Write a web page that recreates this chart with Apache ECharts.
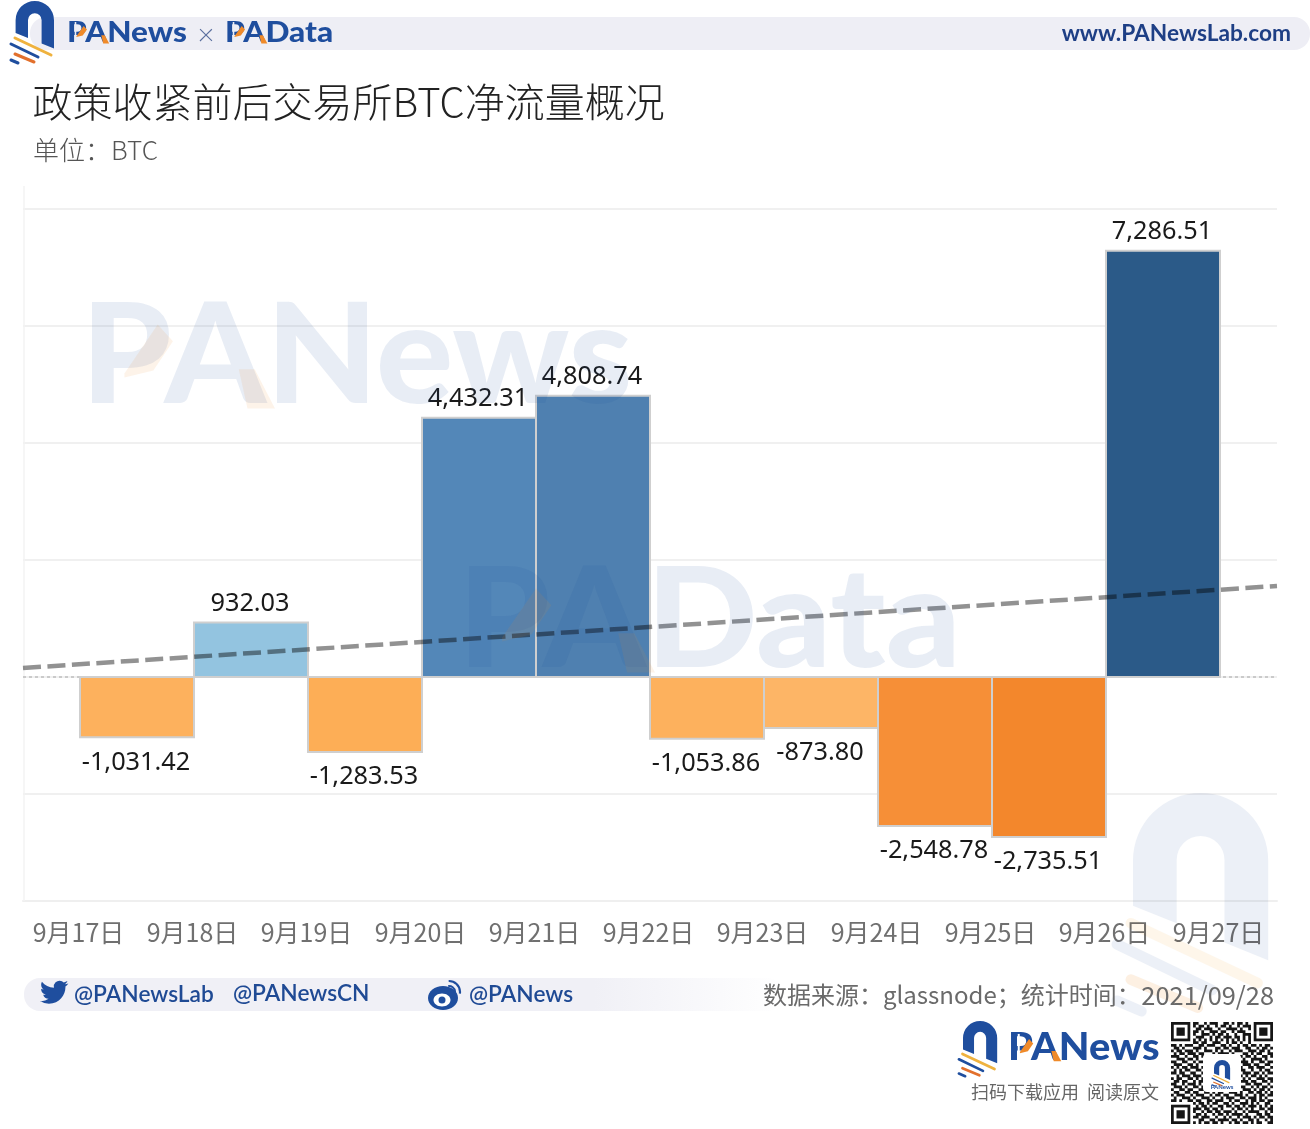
<!DOCTYPE html>
<html>
<head>
<meta charset="utf-8">
<style>html,body{margin:0;padding:0;background:#fff}#c{width:1310px;height:1129px}</style>
<script src="https://cdn.jsdelivr.net/npm/echarts@6/dist/echarts.min.js"></script>
</head>
<body>
<div id="c"></div>
<script>
const dates = ['9月17日','9月18日','9月19日','9月20日','9月21日','9月22日','9月23日','9月24日','9月25日','9月26日','9月27日'];
const netFlow = [-1031.42, 932.03, -1283.53, 4432.31, 4808.74, -1053.86, -873.80, -2548.78, -2735.51, 7286.51];
const barColors = ['#fdb15d','#93c4e0','#fdae56','#5387b8','#4f80b0','#fdb15d','#fdb566','#f68f37','#f3872c','#2b5a88'];
const trendX = [-0.5, 10.5];
const trendY = [154, 1556];
const qrRows = [
'1111111011001011100110101101001111111',
'1000001010110100101101001011101000001',
'1011101001101110010011110100101011101',
'1011101011010011101100101110001011101',
'1011101010011101011010010011101011101',
'1000001001110010110111011010101000001',
'1111111010101010101010101010101111111',
'0000000011011001110010110100100000000',
'1101011100110111001101001011011010110',
'0110100011101000110110111001100101101',
'1011011101001110101001011100111011010',
'0101101110110001011110100011010110011',
'1110010011011100000000001101101001101',
'0011101101000110000000001010011110100',
'1100110010111000000000000111010011011',
'0111001101001000000000001011101100110',
'1010110111010000000000000100110111001',
'0101011001101000000000001110010010110',
'1101100110011000000000000011101101011',
'0010111011100000000000001101011010100',
'1011001101011000000000001010100111011',
'0110110010110000000000000111011001101',
'1100101110101000000000001001101110010',
'0111010011010111011010110110010101101',
'1001101100111010100111001011101011010',
'0110011011001101011001110100110110101',
'1011100101110010110110011101001011011',
'0100111010011101001011100110111010100',
'1101001101100110111001011001011011011',
'0000000010110101100110100111010100110',
'1111111001011010011011011010111010101',
'1000001011101101101000101101010011011',
'1011101010010110110111010010111100101',
'1011101001101001011010111101000110110',
'1011101011011100100101001011101011011',
'1000001000110011011110110100110100101',
'1111111010101101101001011011010110011'
];

const BLUE = '#1f4e9e', YEL = '#efb23e', ORG = '#e2702c';
const CJK = '"Noto Sans CJK SC"';
const archPath = 'M0 32 L0 19.2 A19.2 19.2 0 0 1 38.4 19.2 L38.4 47.5 L26 42.5 L26 19 A6.8 6.8 0 0 0 12.4 19 L12.4 37 Z';
const birdPath = 'M23.953 4.57 a10 10 0 0 1 -2.825 .775 a4.958 4.958 0 0 0 2.163 -2.723 c-.951 .555 -2.005 .959 -3.127 1.184 a4.92 4.92 0 0 0 -8.384 4.482 C7.69 8.095 4.067 6.13 1.64 3.162 a4.822 4.822 0 0 0 -.666 2.475 c0 1.71 .87 3.213 2.188 4.096 a4.904 4.904 0 0 1 -2.228 -.616 v.06 a4.923 4.923 0 0 0 3.946 4.827 a4.996 4.996 0 0 1 -2.212 .085 a4.936 4.936 0 0 0 4.604 3.417 a9.867 9.867 0 0 1 -6.102 2.105 c-.39 0 -.779 -.023 -1.17 -.067 a13.995 13.995 0 0 0 7.557 2.209 c9.053 0 13.998 -7.496 13.998 -13.985 c0 -.21 0 -.42 -.015 -.63 A9.935 9.935 0 0 0 24 4.59 z';
let shapeId = 0;
function pathType(d){
  const name='deco'+(shapeId++);
  echarts.graphic.registerShape(name, echarts.graphic.extendPath(d,{}));
  return name;
}
const archType = pathType(archPath);
const g = [];
const Z = 100;

function line(x1,y1,x2,y2,c,w,blend){
  g.push({type:'line',z:Z,shape:{x1,y1,x2,y2},style:{stroke:c,lineWidth:w,lineCap:'round',blend}});
}
function logo(ox,oy,s,cols,blend){
  const [a,b,c]=cols;
  g.push({type:archType,z:Z,x:ox,y:oy,scaleX:s,scaleY:s,style:{fill:a,blend}});
  const seg=[[-0.6,37,35.4,54,b],[-4.6,43,22.4,56,a],[-0.6,53,18.4,61,c],[-4.6,59,2.4,62,a]];
  seg.forEach(q=>line(ox+q[0]*s,oy+q[1]*s,ox+q[2]*s,oy+q[3]*s,q[4],3*s,blend));
}
function txt(text,x,y,font,fill,align,sx){
  g.push({type:'text',z:Z,x,y,scaleX:sx||1,style:{text,font,fill,align:align||'left',verticalAlign:'middle',textAlign:align||'left',textVerticalAlign:'middle'}});
}
function poly(points,fill){
  g.push({type:'polygon',z:Z,shape:{points},style:{fill}});
}
// wordmark: stem gap in the P, orange accents on the P bowl and A foot
function mark(text,x,mid,size,fill,accent,gap,sx){
  txt(text,x,mid,'900 '+size+'px Lato',fill,'left',sx);
  const base=mid+size*0.36;
  const em=size*sx;
  if(gap) g.push({type:'rect',z:Z,shape:{x:x+em*.245,y:base-size*.74,width:em*.05,height:size*.76},style:{fill:gap}});
  const P=[[.30,-.25],[.53,-.60],[.635,-.48],[.50,-.27],[.30,-.22]].map(p=>[x+p[0]*em,base+p[1]*size]);
  const A=[[1.09,-.28],[1.2,-.28],[1.34,0],[1.15,0]].map(p=>[x+p[0]*em,base+p[1]*size]);
  poly(P,accent); poly(A,accent);
}

// header band
g.push({type:'rect',z:1,shape:{x:30,y:17,width:1280,height:33,r:16},style:{fill:'#eeeef5'}});
logo(15.6,1,1,[BLUE,YEL,ORG]);
mark('PANews',67,33,29,'#1f4e9e','#ef8a2a','#eeeef5',1.085);
txt('×',206,35,'300 30px Lato','#5a6f9e','center');
mark('PAData',225,33,29,'#1f4e9e','#ef8a2a','#eeeef5',1.09);
txt('www.PANewsLab.com',1291,34,'700 22.7px Lato','#1e3f85','right');

// titles
txt('政策收紧前后交易所BTC净流量概况',32.5,102,'300 40px '+CJK,'#222222');
txt('单位：BTC',33,150,'300 26px '+CJK,'#555555');

// chart frame
g.push({type:'line',z:1,shape:{x1:24,y1:186,x2:24,y2:901},style:{stroke:'#f3f3f3',lineWidth:1.5}});

// watermarks, translucent over the plot
const WM='rgba(31,78,158,0.10)', WO='rgba(239,138,42,0.10)';
logo(1133,793,3.52,['#ecf0f7','#fef6ea','#fdf0e2'],'multiply');
mark('PANews',81,358,140,WM,WO,null,1.034);
mark('PAData',458,622,140,WM,WO,null,1.05);

// footer band
g.push({type:'rect',z:1,shape:{x:24,y:978,width:760,height:33,r:16},style:{fill:new echarts.graphic.LinearGradient(0,0,1,0,[{offset:0,color:'#f0f0f6'},{offset:.75,color:'#f0f0f6'},{offset:1,color:'rgba(240,240,246,0)'}])}});
g.push({type:pathType(birdPath),z:Z,x:40,y:978,scaleX:1.18,scaleY:1.18,style:{fill:BLUE}});
txt('@PANewsLab',74,995,'600 22.7px Lato','#1f4a94');
txt('@PANewsCN',233,994,'600 22.7px Lato','#1f4a94');
txt('@PANews',469,995,'600 22.7px Lato','#1f4a94');
g.push({type:'ellipse',z:Z,shape:{cx:443,cy:998,rx:15,ry:12},style:{fill:BLUE}});
g.push({type:'ellipse',z:Z,shape:{cx:442,cy:1000,rx:8.5,ry:6.5},style:{fill:'#fff'}});
g.push({type:'circle',z:Z,shape:{cx:442,cy:1000,r:3.5},style:{fill:BLUE}});
g.push({type:'arc',z:Z,shape:{cx:449,cy:992,r:6,startAngle:-1.7,endAngle:0.1},style:{stroke:BLUE,lineWidth:2,fill:null}});
g.push({type:'arc',z:Z,shape:{cx:449,cy:992,r:11,startAngle:-1.6,endAngle:0.15},style:{stroke:BLUE,lineWidth:2.2,fill:null}});
txt('数据来源：glassnode；统计时间：',763,995,'400 24px '+CJK,'#6a6a6a');
txt('2021/09/28',1274,995,'400 25.4px '+CJK,'#6a6a6a','right');

// footer brand
logo(963,1021,0.89,[BLUE,YEL,ORG]);
mark('PANews',1008,1048,37,'#1f4e9e','#ef8a2a','#ffffff',1.075);
txt('扫码下载应用  阅读原文',971,1092,'400 18px '+CJK,'#666666');

// QR block
(function(){
  const ox=1171, oy=1022, m=102/37;
  let d='';
  const inFinder=(r,c)=>(r<8&&c<8)||(r<8&&c>28)||(r>28&&c<8);
  const sq=(x,y,n)=>'M'+x.toFixed(2)+' '+y.toFixed(2)+'h'+n.toFixed(2)+'v'+n.toFixed(2)+'h-'+n.toFixed(2)+'z';
  qrRows.forEach((row,r)=>{ for(let c=0;c<37;c++){ if(row[c]==='1'&&!inFinder(r,c)) d+=sq(c*m,r*m,m); } });
  g.push({type:pathType(d),z:Z,x:ox,y:oy,style:{fill:'#161616'}});
  [[0,0],[30,0],[0,30]].forEach(p=>{
    const x=ox+p[0]*m,y=oy+p[1]*m;
    g.push({type:'rect',z:Z,shape:{x,y,width:7*m,height:7*m},style:{fill:'#161616'}});
    g.push({type:'rect',z:Z,shape:{x:x+m,y:y+m,width:5*m,height:5*m},style:{fill:'#fff'}});
    g.push({type:'rect',z:Z,shape:{x:x+2*m,y:y+2*m,width:3*m,height:3*m},style:{fill:'#161616'}});
  });
  g.push({type:'rect',z:Z,shape:{x:1203,y:1054,width:38,height:38,r:4},style:{fill:'#fff'}});
  logo(1214,1060,0.42,[BLUE,YEL,ORG]);
  txt('PANews',1222,1087,'700 6px Lato','#1f4e9e','center');
})();

function renderBar(params,api){
  const i=api.value(0), v=api.value(1);
  const a=api.coord([i,0]), b=api.coord([i,v]);
  const w=api.size([1,0])[0];
  const top=Math.min(a[1],b[1]), h=Math.abs(a[1]-b[1]);
  return {type:'group',children:[
    {type:'rect',shape:{x:a[0],y:top,width:w,height:h},style:{fill:barColors[params.dataIndex],stroke:'#cfcfcf',lineWidth:2}},
    {type:'text',z2:5,x:a[0]+w/2-1,y:v>=0?top-18.5:top+h+25,style:{
      text:v.toLocaleString('en-US',{minimumFractionDigits:2,maximumFractionDigits:2}),
      font:'400 25.3px "Noto Sans"',fill:'#1a1a1a',align:'center',verticalAlign:'middle',textAlign:'center',textVerticalAlign:'middle'}}
  ]};
}
function segment(stroke,width,dash){
  return function(params,api){
    const a=api.coord([api.value(0),api.value(1)]), b=api.coord([api.value(2),api.value(3)]);
    return {type:'line',shape:{x1:a[0],y1:a[1],x2:b[0],y2:b[1]},style:{stroke,lineWidth:width,lineDash:dash,fill:null}};
  };
}

const option={
  animation:false,
  backgroundColor:'#ffffff',
  grid:{left:23,width:1254,top:209,height:702,containLabel:false},
  xAxis:[
    {type:'category',data:dates,boundaryGap:true,position:'bottom',offset:-10,
     axisLine:{onZero:false,lineStyle:{color:'#efefef',width:2}},
     axisTick:{alignWithLabel:true,length:9,lineStyle:{color:'#eeeeee',width:1.5}},
     axisLabel:{interval:0,margin:19,fontFamily:CJK,fontWeight:400,fontSize:25,color:'#707070',padding:[0,3,0,0]}},
    {type:'value',min:trendX[0],max:trendX[1],show:false}
  ],
  yAxis:{type:'value',min:-4000,max:8000,interval:2000,
     axisLine:{show:false},axisTick:{show:false},axisLabel:{show:false},
     splitLine:{show:true,showMinLine:false,lineStyle:{color:'#f0f0f0',width:2}}},
  series:[
    {type:'custom',name:'zero',xAxisIndex:1,clip:false,z:1,silent:true,
     encode:{x:[0,2],y:[1,3]},data:[[trendX[0],0,trendX[1],0]],
     renderItem:segment('#bdbdbd',1.5,[3,3])},
    {type:'custom',name:'净流量',xAxisIndex:0,clip:false,z:3,silent:true,
     encode:{x:0,y:1},data:netFlow.map((v,i)=>[i,v]),renderItem:renderBar},
    {type:'custom',name:'趋势',xAxisIndex:1,clip:false,z:4,silent:true,blendMode:'multiply',
     encode:{x:[0,2],y:[1,3]},data:[[trendX[0],trendY[0],trendX[1],trendY[1]]],
     renderItem:segment('#929292',4.5,[18,6.5])}
  ],
  graphic:{elements:g}
};
const chart=echarts.init(document.getElementById('c'),null,{renderer:'canvas',width:1310,height:1129});
chart.setOption(option);
</script>
</body>
</html>
